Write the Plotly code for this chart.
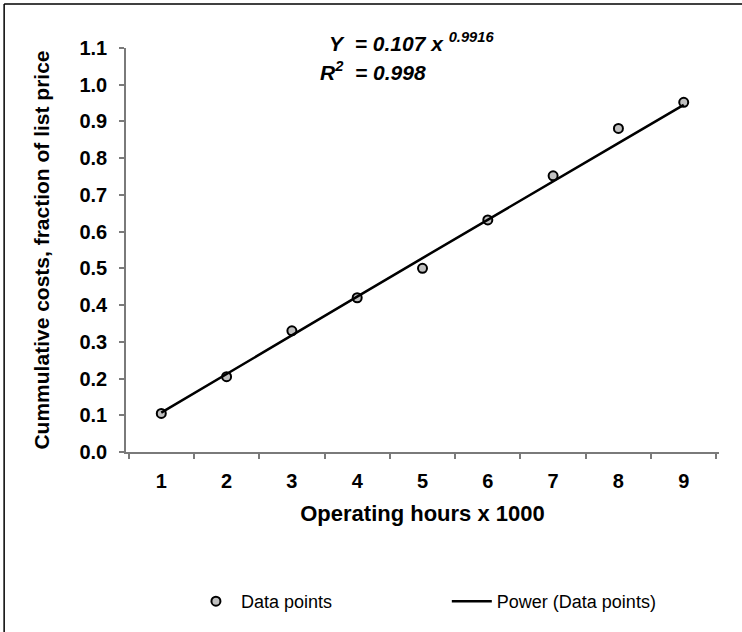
import plotly.graph_objects as go

# ---- data ----
hours_k = ["1", "2", "3", "4", "5", "6", "7", "8", "9"]
cost_fraction = [0.105, 0.205, 0.33, 0.42, 0.50, 0.632, 0.752, 0.881, 0.952]
power_trend = [0.107, 0.213, 0.318, 0.423, 0.528, 0.633, 0.737, 0.841, 0.945]
y_ticks = [0.0, 0.1, 0.2, 0.3, 0.4, 0.5, 0.6, 0.7, 0.8, 0.9, 1.0, 1.1]

FONT = "Liberation Sans, Arial, sans-serif"
AXIS_GREY = "#7a7a7a"

fig = go.Figure()
fig.add_trace(go.Scatter(
    x=hours_k, y=cost_fraction, mode="markers", name="Data points",
    marker=dict(size=9, color="#c0c0c0", line=dict(color="black", width=2)),
    legend="legend",
))
fig.add_trace(go.Scatter(
    x=hours_k, y=power_trend, mode="lines", name="Power (Data points)",
    line=dict(color="black", width=2.5),
    legend="legend2",
))

legend_common = dict(
    orientation="h", y=-0.370, yanchor="middle", xanchor="left",
    font=dict(family=FONT, size=18, color="black"),
    itemwidth=40, bgcolor="rgba(0,0,0,0)",
)

fig.update_layout(
    width=742, height=632,
    margin=dict(l=126, r=23, t=48, b=171),
    paper_bgcolor="white", plot_bgcolor="white",
    font=dict(family=FONT, color="black"),
    showlegend=True,
    legend=dict(x=0.1095, **legend_common),
    legend2=dict(x=0.541, **legend_common),
    xaxis=dict(
        type="category", tickson="boundaries", ticks="outside", ticklen=5,
        tickwidth=1.5, tickcolor=AXIS_GREY, showline=True, linecolor=AXIS_GREY,
        linewidth=1.5, showgrid=False, zeroline=False,
        tickfont=dict(family=FONT, size=20, color="black", weight="bold"),
        ticklabelstandoff=10,
        title=dict(text="<b>Operating hours x 1000</b>", standoff=15,
                   font=dict(family=FONT, size=22, color="black")),
    ),
    yaxis=dict(
        range=[0, 1.1], tickvals=y_ticks, tickformat=".1f", ticks="outside",
        ticklen=5, tickwidth=1.5, tickcolor=AXIS_GREY, showline=True,
        linecolor=AXIS_GREY, linewidth=1.5, showgrid=False, zeroline=False,
        tickfont=dict(family=FONT, size=20, color="black", weight="bold"),
        ticklabelstandoff=8,
        title=dict(text="<b>Cummulative costs, fraction of list price</b>",
                   standoff=24, font=dict(family=FONT, size=21, color="black")),
    ),
    shapes=[
        dict(type="line", xref="paper", yref="paper", x0=-0.2055, x1=-0.2055,
             y0=-0.6, y1=1.109, line=dict(color="black", width=1.5)),
        dict(type="line", xref="paper", yref="paper", x0=-0.2055, x1=1.2,
             y0=1.109, y1=1.109, line=dict(color="black", width=1.5)),
    ],
    annotations=[
        dict(xref="paper", yref="paper", x=0.3386, y=1.016, xanchor="left",
             yanchor="middle", showarrow=False,
             text="<b><i>Y&nbsp; = 0.107 x <sup>0.9916</sup></i></b>",
             font=dict(family=FONT, size=21, color="black")),
        dict(xref="paper", yref="paper", x=0.323, y=0.943, xanchor="left",
             yanchor="middle", showarrow=False,
             text="<b><i>R<sup>2</sup>&nbsp; = 0.998</i></b>",
             font=dict(family=FONT, size=21, color="black")),
    ],
)

fig.write_html("out.html", config={"displayModeBar": False})
